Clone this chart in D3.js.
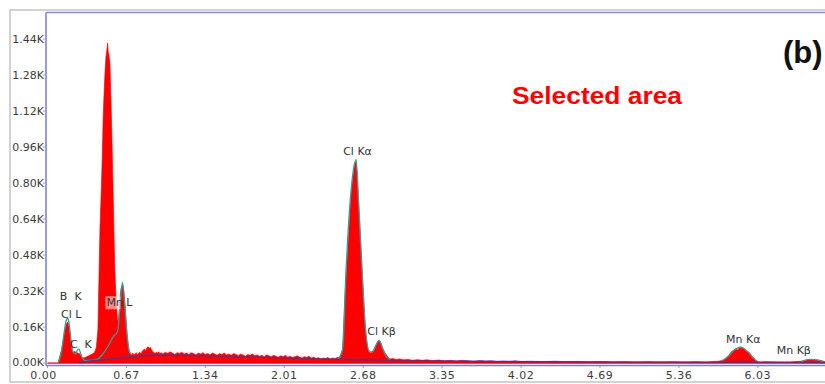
<!DOCTYPE html>
<html lang="en">
<head>
<meta charset="UTF-8">
<title>EDS spectrum (b)</title>
<script src="https://d3js.org/d3.v7.min.js"></script>
<style>
    body { margin: 0; background: #fff; }
    svg { display: block; }
    .tick-label { font-family: "DejaVu Sans", sans-serif; font-size: 11px; fill: #3c3c3c; }
    .peak-label { font-family: "DejaVu Sans", sans-serif; font-size: 11px; fill: #333; white-space: pre; }
</style>
</head>
<body>
<div id="chart"></div>
<script>
    // x ticks (keV) and y ticks (counts)
    const xTicks = [0.00, 0.67, 1.34, 2.01, 2.68, 3.35, 4.02, 4.69, 5.36, 6.03];
    const yTicks = [0, 160, 320, 480, 640, 800, 960, 1120, 1280, 1440];
    const yTickLabels = ["0.00K", "0.16K", "0.32K", "0.48K", "0.64K", "0.80K", "0.96K", "1.12K", "1.28K", "1.44K"];

    const spectrum = [
        [0.00, 0], [0.09, 0], [0.10, 20], [0.12, 60], [0.14, 120], [0.155, 165], [0.168, 182], [0.178, 175],
        [0.188, 140], [0.198, 95], [0.208, 60], [0.218, 48], [0.23, 52], [0.245, 46], [0.26, 44], [0.275, 40],
        [0.29, 28], [0.30, 22], [0.32, 24], [0.34, 30], [0.36, 34], [0.38, 40], [0.40, 48], [0.415, 70],
        [0.428, 150], [0.445, 590], [0.456, 760], [0.465, 915], [0.472, 1080], [0.479, 1182], [0.488, 1290],
        [0.496, 1360], [0.504, 1390], [0.510, 1422], [0.516, 1380], [0.522, 1370], [0.530, 1333], [0.537, 1200],
        [0.544, 1067], [0.551, 900], [0.558, 738], [0.565, 560], [0.572, 413], [0.579, 320], [0.587, 249],
        [0.594, 195], [0.601, 180], [0.608, 230], [0.615, 290], [0.624, 330], [0.632, 345], [0.640, 340],
        [0.649, 310], [0.658, 260], [0.666, 200], [0.675, 130], [0.684, 85], [0.694, 55], [0.704, 42],
        [0.714, 38], [0.724, 44], [0.734, 36], [0.744, 40], [0.754, 46], [0.764, 38], [0.774, 42], [0.784, 48],
        [0.794, 40], [0.804, 52], [0.814, 58], [0.824, 62], [0.834, 55], [0.844, 68], [0.854, 72], [0.864, 66],
        [0.874, 70], [0.884, 58], [0.894, 50], [0.904, 46], [0.914, 42], [0.924, 48], [0.934, 44], [0.944, 50],
        [0.954, 42], [0.964, 46], [0.98, 40], [1.00, 48], [1.02, 42], [1.04, 50], [1.06, 44], [1.08, 38],
        [1.10, 46], [1.12, 42], [1.14, 48], [1.16, 40], [1.18, 44], [1.20, 38], [1.22, 46], [1.24, 42],
        [1.26, 36], [1.28, 44], [1.30, 40], [1.32, 46], [1.34, 38], [1.36, 42], [1.38, 36], [1.40, 44],
        [1.42, 40], [1.44, 34], [1.46, 42], [1.48, 38], [1.50, 44], [1.52, 36], [1.54, 40], [1.56, 34],
        [1.58, 42], [1.60, 38], [1.62, 32], [1.64, 40], [1.66, 36], [1.68, 30], [1.70, 38], [1.72, 34],
        [1.74, 40], [1.76, 32], [1.78, 36], [1.80, 30], [1.82, 34], [1.84, 28], [1.86, 36], [1.88, 32],
        [1.90, 28], [1.92, 34], [1.94, 30], [1.96, 26], [1.98, 32], [2.00, 28], [2.02, 34], [2.04, 26],
        [2.06, 30], [2.08, 24], [2.10, 28], [2.12, 32], [2.14, 26], [2.16, 22], [2.18, 28], [2.20, 24],
        [2.22, 30], [2.24, 22], [2.26, 26], [2.28, 20], [2.30, 24], [2.32, 18], [2.34, 22], [2.36, 20],
        [2.38, 24], [2.40, 18], [2.42, 22], [2.44, 20], [2.46, 24], [2.48, 26], [2.505, 60], [2.525, 300],
        [2.54, 428], [2.555, 560], [2.568, 680], [2.582, 780], [2.597, 844], [2.607, 880], [2.618, 895],
        [2.628, 850], [2.64, 724], [2.654, 580], [2.669, 428], [2.683, 290], [2.697, 161], [2.711, 90],
        [2.725, 50], [2.745, 44], [2.768, 58], [2.788, 75], [2.806, 98], [2.815, 102], [2.828, 88],
        [2.848, 62], [2.866, 44], [2.888, 28], [2.908, 18], [2.93, 20], [2.96, 16], [2.99, 18], [3.02, 14],
        [3.06, 16], [3.10, 12], [3.14, 15], [3.18, 12], [3.22, 14], [3.27, 11], [3.32, 13], [3.37, 10],
        [3.42, 12], [3.47, 9], [3.52, 12], [3.57, 10], [3.62, 8], [3.67, 11], [3.72, 9], [3.77, 10],
        [3.82, 7], [3.87, 9], [3.92, 8], [3.97, 10], [4.02, 7], [4.1, 8], [4.2, 6], [4.3, 8], [4.4, 6],
        [4.5, 7], [4.6, 5], [4.7, 7], [4.8, 5], [4.9, 6], [5.0, 5], [5.1, 6], [5.2, 5], [5.3, 6], [5.4, 5],
        [5.5, 6], [5.6, 5], [5.7, 8], [5.745, 14], [5.775, 28], [5.805, 50], [5.84, 62], [5.86, 58],
        [5.875, 70], [5.89, 64], [5.905, 68], [5.925, 55], [5.955, 48], [5.985, 28], [6.015, 8], [6.05, 5],
        [6.1, 6], [6.2, 5], [6.3, 5], [6.4, 8], [6.45, 14], [6.50, 16], [6.55, 12], [6.60, 6]
    ];

    // fitted peak envelopes (teal), one list per peak group
    const fitLow = [
        [0.09, 0], [0.12, 55], [0.14, 130], [0.157, 185], [0.172, 200], [0.185, 170], [0.2, 100], [0.215, 50],
        [0.235, 40], [0.255, 58], [0.267, 62], [0.28, 45], [0.295, 22], [0.32, 12], [0.37, 12], [0.42, 16],
        [0.47, 40], [0.52, 80], [0.56, 118], [0.595, 140], [0.615, 250], [0.636, 358], [0.65, 300],
        [0.665, 190], [0.68, 100], [0.695, 48], [0.72, 36]
    ];
    const fitCl = [
        [2.47, 18], [2.505, 60], [2.535, 420], [2.565, 690], [2.597, 860], [2.62, 905], [2.638, 740],
        [2.668, 430], [2.698, 160], [2.728, 55], [2.758, 48], [2.788, 80], [2.815, 100], [2.848, 60],
        [2.878, 25], [2.91, 16]
    ];
    const fitMnKa = [[5.72, 8], [5.78, 30], [5.84, 62], [5.885, 70], [5.935, 55], [5.985, 25], [6.025, 8]];
    const fitMnKb = [[6.40, 6], [6.47, 16], [6.53, 14], [6.59, 6]];

    // continuum background fit (navy)
    const background = [
        [0.27, 0], [0.35, 8], [0.5, 15], [0.7, 25], [0.9, 35], [1.2, 33], [1.6, 28], [2.0, 22],
        [2.5, 15], [3.0, 10], [4.0, 6], [5.0, 4], [6.0, 3], [6.6, 2]
    ];

    // peak labels [text, keV at label start, counts at baseline]
    const peakLabels = [
        ["B  K", 0.105, 280],
        ["Cl L", 0.115, 200],
        ["C  K", 0.19, 67],
        ["Mn L", 0.50, 252],
        ["Cl Kα", 2.51, 925],
        ["Cl Kβ", 2.715, 125],
        ["Mn Kα", 5.76, 90],
        ["Mn Kβ", 6.19, 40]
    ];

    const width = 825;
    const height = 384;

    const x = d3.scaleLinear().domain([0, 6.6]).range([47.5, 825]);
    const y = d3.scaleLinear().domain([0, 1560]).range([363, 12]);

    const svg = d3.select("#chart")
        .append("svg")
        .attr("width", width)
        .attr("height", height);

    // outer grey frame
    svg.append("rect")
        .attr("x", 10).attr("y", 10)
        .attr("width", 830).attr("height", 372)
        .attr("fill", "#fff")
        .attr("stroke", "#c4c4c4")
        .attr("stroke-width", 1.5);

    // spectrum fill
    const area = d3.area()
        .x(d => x(d[0]))
        .y0(y(0))
        .y1(d => y(d[1]))
        .curve(d3.curveLinear);

    svg.append("path")
        .datum(spectrum)
        .attr("d", area)
        .attr("fill", "#ff0000")
        .attr("stroke", "#e00000")
        .attr("stroke-width", 0.6);

    // baseline of the spectrum
    svg.append("line")
        .attr("x1", 47.5).attr("x2", 825)
        .attr("y1", y(0) + 0.5).attr("y2", y(0) + 0.5)
        .attr("stroke", "#f04848")
        .attr("stroke-width", 1);

    const line = d3.line()
        .x(d => x(d[0]))
        .y(d => y(d[1]))
        .curve(d3.curveMonotoneX);

    [fitLow, fitCl, fitMnKa, fitMnKb].forEach(seg => {
        svg.append("path")
            .datum(seg)
            .attr("d", line)
            .attr("fill", "none")
            .attr("stroke", "#2f9f9f")
            .attr("stroke-width", 1.3);
    });

    svg.append("path")
        .datum(background)
        .attr("d", line)
        .attr("fill", "none")
        .attr("stroke", "#3b3b9e")
        .attr("stroke-width", 1.2);

    // plot frame: left and top blue borders, bottom axis
    svg.append("line")
        .attr("x1", 46).attr("x2", 46).attr("y1", 12.5).attr("y2", 365.5)
        .attr("stroke", "#7a7ac8").attr("stroke-width", 1.5);
    svg.append("line")
        .attr("x1", 46).attr("x2", 825).attr("y1", 12.5).attr("y2", 12.5)
        .attr("stroke", "#8a8ad0").attr("stroke-width", 1.5);
    svg.append("line")
        .attr("x1", 46).attr("x2", 825).attr("y1", 365.5).attr("y2", 365.5)
        .attr("stroke", "#7c7cd0").attr("stroke-width", 1.5);

    // y ticks and labels
    const yAxis = svg.append("g");
    yAxis.selectAll("line")
        .data(yTicks)
        .join("line")
        .attr("x1", 43).attr("x2", 46)
        .attr("y1", d => y(d)).attr("y2", d => y(d))
        .attr("stroke", "#9a9ac8");
    yAxis.selectAll("text")
        .data(yTicks)
        .join("text")
        .attr("class", "tick-label")
        .attr("x", 44)
        .attr("y", d => y(d) + 3.5 - (d === 0 ? 0.5 : 0))
        .attr("text-anchor", "end")
        .text((d, i) => yTickLabels[i]);

    // x ticks and labels
    const xAxis = svg.append("g");
    xAxis.selectAll("line")
        .data(xTicks)
        .join("line")
        .attr("x1", d => x(d)).attr("x2", d => x(d))
        .attr("y1", 366).attr("y2", 368)
        .attr("stroke", "#9a9ac8");
    xAxis.selectAll("text")
        .data(xTicks)
        .join("text")
        .attr("class", "tick-label")
        .attr("x", (d, i) => x(d) - (i === 0 ? 4 : 0))
        .attr("y", 378.5)
        .attr("text-anchor", "middle")
        .attr("letter-spacing", "0.5px")
        .text(d => d.toFixed(2));

    // peak labels
    peakLabels.forEach(([txt, e, c]) => {
        if (txt === "Mn L") {
            svg.append("rect")
                .attr("x", x(e) - 1).attr("y", y(c) - 10)
                .attr("width", 15).attr("height", 13)
                .attr("fill", "#fff").attr("opacity", 0.55);
        }
        svg.append("text")
            .attr("class", "peak-label")
            .attr("x", x(e))
            .attr("y", y(c))
            .text(txt);
    });

    // annotations
    svg.append("text")
        .attr("x", 512).attr("y", 104)
        .attr("font-family", "Liberation Sans, Arial, sans-serif")
        .attr("font-weight", "bold")
        .attr("font-size", 23)
        .attr("fill", "#ff0000")
        .attr("textLength", 170)
        .attr("lengthAdjust", "spacingAndGlyphs")
        .text("Selected area");

    svg.append("text")
        .attr("x", 783).attr("y", 63)
        .attr("font-family", "Liberation Sans, Arial, sans-serif")
        .attr("font-weight", "bold")
        .attr("font-size", 31)
        .attr("fill", "#111")
        .text("(b)");
</script>
</body>
</html>
